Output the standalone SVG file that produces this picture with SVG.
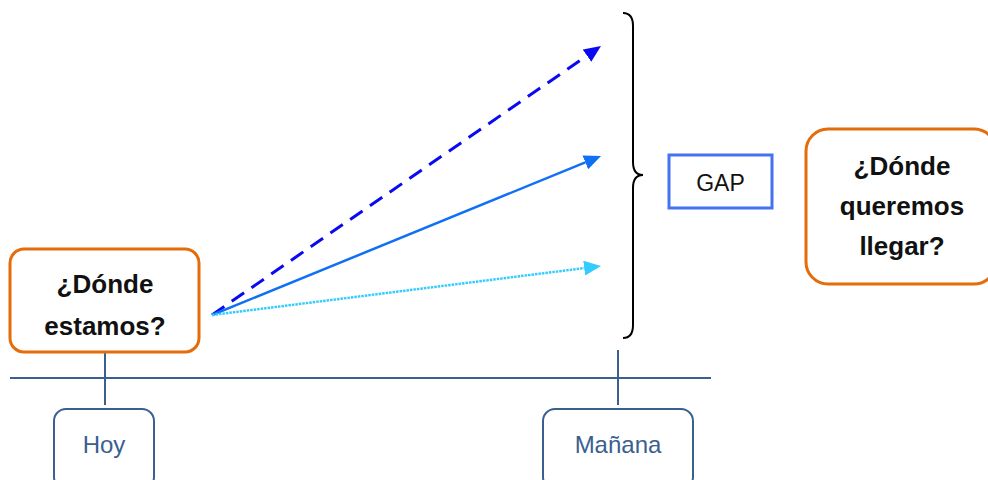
<svg xmlns="http://www.w3.org/2000/svg" width="988" height="480" viewBox="0 0 988 480">
<style>
.q{fill:#fff;stroke:#E46C0A;stroke-width:3}
.qt{font-family:"Liberation Sans",Arial,sans-serif;font-weight:bold;font-size:26px;fill:#111;text-anchor:middle}
.tl{fill:#fff;stroke:#3A6090;stroke-width:2}
.tt{font-family:"Liberation Sans",Arial,sans-serif;font-size:24px;fill:#3A6090;text-anchor:middle}
.ax{stroke:#3A6090;stroke-width:2;fill:none}
</style>
<defs>
<marker id="mDark" markerUnits="userSpaceOnUse" markerWidth="17" markerHeight="15" refX="0" refY="7.5" orient="auto"><path d="M0,0 L17,7.5 L0,15 z" fill="#0A0AF0"/></marker>
<marker id="mMid" markerUnits="userSpaceOnUse" markerWidth="17" markerHeight="15" refX="0" refY="7.5" orient="auto"><path d="M0,0 L17,7.5 L0,15 z" fill="#1070F5"/></marker>
<marker id="mLight" markerUnits="userSpaceOnUse" markerWidth="17" markerHeight="15" refX="0" refY="7.5" orient="auto"><path d="M0,0 L17,7.5 L0,15 z" fill="#33CCFF"/></marker>
</defs>
<g id="timeline">
<line class="ax" x1="10" y1="378" x2="711" y2="378"/>
</g>
<g id="connectors">
<line x1="212" y1="315" x2="587" y2="55.7" stroke="#0A0AF0" stroke-width="3" stroke-dasharray="15 9" marker-end="url(#mDark)"/>
<line x1="212" y1="315" x2="585.3" y2="162.4" stroke="#1070F5" stroke-width="2.5" marker-end="url(#mMid)"/>
<line x1="212" y1="315" x2="584.2" y2="268.1" stroke="#33CCFF" stroke-width="2.5" stroke-dasharray="2.5 1" marker-end="url(#mLight)"/>
<line class="ax" x1="105" y1="352" x2="105" y2="405"/>
<line class="ax" x1="618" y1="350" x2="618" y2="405"/>
</g>
<g id="donde-estamos">
<rect class="q" x="10" y="249" width="189" height="103" rx="14"/>
<text class="qt" x="105" y="293">¿Dónde</text>
<text class="qt" x="105" y="335">estamos?</text>
</g>
<g id="brace">
<path d="M623,13 Q633,13 633,26 L633,162 Q633,175 643,175 Q633,175 633,188 L633,325 Q633,338 623,338" fill="none" stroke="#000" stroke-width="2"/>
</g>
<g id="gap">
<rect x="669" y="155" width="103" height="53" fill="#fff" stroke="#4472F0" stroke-width="3"/>
<text x="720.5" y="191" font-family="'Liberation Sans',Arial,sans-serif" font-size="23" fill="#111" text-anchor="middle">GAP</text>
</g>
<g id="donde-queremos">
<rect class="q" x="806" y="129" width="190" height="155" rx="22"/>
<text class="qt" x="902" y="175">¿Dónde</text>
<text class="qt" x="902" y="215">queremos</text>
<text class="qt" x="902" y="255">llegar?</text>
</g>
<g id="hoy">
<rect class="tl" x="54" y="409" width="100" height="80" rx="12"/>
<text class="tt" x="104" y="453">Hoy</text>
</g>
<g id="manana">
<rect class="tl" x="543" y="409" width="150" height="80" rx="12"/>
<text class="tt" x="618" y="453">Mañana</text>
</g>
</svg>
